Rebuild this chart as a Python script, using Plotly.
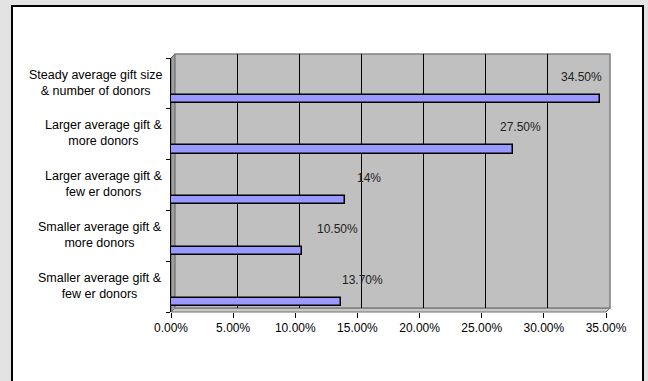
import plotly.graph_objects as go

# Survey outcome categories (top to bottom) and their shares in percent
categories = [
    "Steady average gift size<br>& number of donors",
    "Larger average gift &<br>more donors",
    "Larger average gift &<br>few er donors",
    "Smaller average gift &<br>more donors",
    "Smaller average gift &<br>few er donors",
]
values = [34.5, 27.5, 14, 10.5, 13.7]
value_labels = ["34.50%", "27.50%", "14%", "10.50%", "13.70%"]
x_ticks = [0, 5, 10, 15, 20, 25, 30, 35]

# horizontal nudges of the value labels (px), same order as categories
label_dx = [-18, 8, 24, 36, 21]

W, H = 648, 381
L, R, T, B = 171, 38, 54, 69
PW, PH = W - L - R, H - T - B
DEPTH = 4  # 3-D depth offset in px


def px(x):
    return (x - L) / PW


def py(y):
    return (H - B - y) / PH


n = len(categories)
ypos = [n - 1 - i for i in range(n)]  # first category on top

FONT = "Liberation Sans, Arial, sans-serif"

fig = go.Figure()

# back wall subplot (x/y): holds only the gridlines
fig.add_trace(go.Scatter(x=[0], y=[0], xaxis="x", yaxis="y", mode="markers",
                         marker=dict(opacity=0), hoverinfo="skip", showlegend=False))

# front subplot (x2/y2): the bars
fig.add_trace(go.Bar(
    x=values, y=ypos, orientation="h", width=0.16,
    xaxis="x2", yaxis="y2",
    marker=dict(color="#9999ff", line=dict(color="black", width=1.5)),
    hoverinfo="skip", showlegend=False,
))

shapes = [
    # white chart area with black frame
    dict(type="rect", xref="paper", yref="paper",
         x0=px(12), x1=px(643), y0=py(400), y1=py(6),
         fillcolor="white", line=dict(color="black", width=2), layer="below"),
    # left side wall
    dict(type="path", xref="paper", yref="paper",
         path=f"M {px(171)} {py(312)} L {px(171)} {py(58)} L {px(175)} {py(54)} L {px(175)} {py(308)} Z",
         fillcolor="#a0a0a0", line=dict(color="#606060", width=1), layer="below"),
    # floor
    dict(type="path", xref="paper", yref="paper",
         path=f"M {px(171)} {py(312)} L {px(606)} {py(312)} L {px(610)} {py(308)} L {px(175)} {py(308)} Z",
         fillcolor="#c8c8c8", line=dict(color="#707070", width=1), layer="below"),
    # back wall
    dict(type="rect", xref="x domain", yref="y domain", x0=0, x1=1, y0=0, y1=1,
         fillcolor="#c0c0c0", line=dict(color="#808080", width=1.5), layer="below"),
]

annotations = []
for i, cat in enumerate(categories):
    annotations.append(dict(
        text=cat, xref="paper", yref="y2", x=0, y=ypos[i], xanchor="right",
        yanchor="middle", xshift=-7, yshift=16, align="center", showarrow=False,
        font=dict(family=FONT, size=12.5, color="black"),
    ))
for i, (v, lab) in enumerate(zip(values, value_labels)):
    annotations.append(dict(
        text=lab, xref="x2", yref="y2", x=v, y=ypos[i], xanchor="center",
        yanchor="middle", xshift=label_dx[i], yshift=22, showarrow=False,
        font=dict(family=FONT, size=12, color="#222222"),
    ))

fig.update_layout(
    width=W, height=H,
    margin=dict(l=L, r=R, t=T, b=B, pad=0),
    paper_bgcolor="#e3e3e3",
    plot_bgcolor="rgba(0,0,0,0)",
    font=dict(family=FONT, size=12, color="black"),
    bargap=0,
    shapes=shapes,
    annotations=annotations,
    xaxis=dict(domain=[DEPTH / PW, 1], range=[0, 35], tickvals=x_ticks,
               showgrid=True, gridcolor="black", gridwidth=1,
               showticklabels=False, ticks="", zeroline=False, anchor="y"),
    yaxis=dict(domain=[DEPTH / PH, 1], range=[0, 1], showgrid=False,
               showticklabels=False, ticks="", zeroline=False, anchor="x"),
    xaxis2=dict(domain=[0, (PW - DEPTH) / PW], range=[0, 35], tickvals=x_ticks,
                ticktext=[f"{t:.2f}%" for t in x_ticks],
                showgrid=False, zeroline=False, ticks="outside", ticklen=5,
                tickcolor="black", tickwidth=1, anchor="y2",
                tickfont=dict(family=FONT, size=12, color="black")),
    yaxis2=dict(domain=[0, (PH - DEPTH) / PH], range=[-0.2, n - 0.2],
                tickvals=[k - 0.2 for k in range(n + 1)], showticklabels=False,
                ticks="outside", ticklen=4, tickcolor="black", showgrid=False,
                zeroline=False, showline=True, linecolor="black", linewidth=1,
                anchor="x2"),
)

fig.write_html("out.html")
